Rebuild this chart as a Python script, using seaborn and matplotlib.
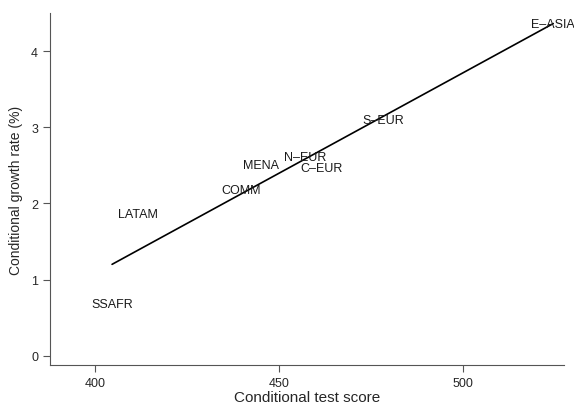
import numpy as np
import pandas as pd
import matplotlib
matplotlib.use("Agg")
import matplotlib.pyplot as plt
import seaborn as sns

regions = ["SSAFR", "LATAM", "COMM", "MENA", "N–EUR", "C–EUR", "S–EUR", "E–ASIA"]
test_score = [404.6, 411.7, 439.6, 445.1, 457.1, 461.5, 478.4, 524.6]
growth = [0.68, 1.86, 2.18, 2.51, 2.61, 2.47, 3.10, 4.36]

df = pd.DataFrame({"region": regions, "score": test_score, "growth": growth})

sns.set_style("ticks")
plt.rcParams["font.family"] = ["Liberation Sans", "DejaVu Sans"]

fig = plt.figure(figsize=(5.74, 4.06), dpi=100)
ax = fig.add_axes([0.087, 0.0985, 0.896, 0.867])

sns.regplot(data=df, x="score", y="growth", scatter=False, ci=None,
            color="black", line_kws={"linewidth": 1.2}, ax=ax)

for _, row in df.iterrows():
    ax.text(row["score"], row["growth"], row["region"], ha="center", va="center",
            fontsize=9, color="#1a1a1a")

ax.set_xlim(387.7, 527.6)
ax.set_ylim(-0.12, 4.5)
ax.set_xticks([400, 450, 500])
ax.set_yticks([0, 1, 2, 3, 4])
ax.set_xlabel("Conditional test score", fontsize=11, labelpad=1)
ax.set_ylabel("Conditional growth rate (%)", fontsize=10, labelpad=6)
ax.tick_params(labelsize=9, length=5, color="#555555", width=0.8)
sns.despine(ax=ax)
for s in ["left", "bottom"]:
    ax.spines[s].set_color("#555555")
    ax.spines[s].set_linewidth(0.8)

fig.savefig("out.png", dpi=100)
